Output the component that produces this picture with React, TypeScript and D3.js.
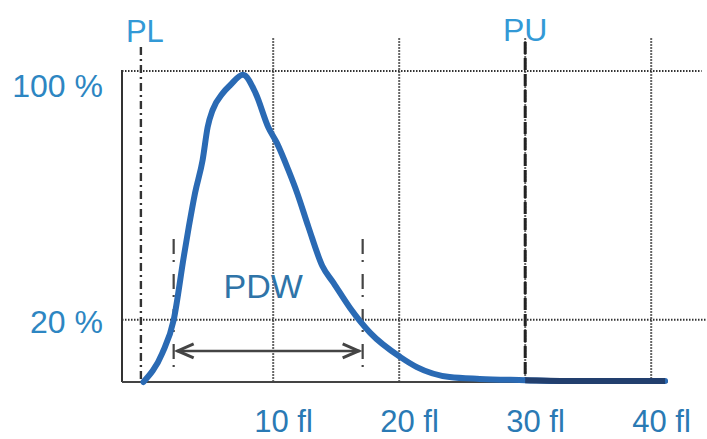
import * as d3 from 'd3'

const width = 707
const height = 439

// distribution curve (volume fl, relative count %)
const curveFl = [-0.3, 1.2, 2.1, 2.9, 3.3, 3.8, 4.4, 4.8, 5.2, 6.0, 6.6, 7.6, 8.6, 9.6, 10.3, 11.2, 11.9, 12.8, 13.9, 14.8, 16.1, 17.7, 20.1, 21.4, 24.0, 26.4, 30.0, 32.8, 41.1]
const curvePct = [0, 9.3, 19.9, 40.2, 49.8, 60.8, 71.4, 82.0, 87.5, 92.9, 95.5, 98.8, 92.9, 82.0, 76.8, 68.2, 60.8, 49.8, 37.3, 31.8, 23.8, 15.8, 8.0, 4.8, 1.6, 1.0, 0.6, 0.3, 0.3]

const xTicks = [10, 20, 30, 40]
const yTicks = [20, 100]

const plFl = -0.5
const puFl = 30
const pdwBounds = [2.1, 17.1]
const arrowPct = 10

const font = '"Liberation Sans", Arial, sans-serif'

export default function App(): JSX.Element {
  const x = d3.scaleLinear().domain([-2, 44]).range([122, 701.6])
  const y = d3.scaleLinear().domain([0, 100]).range([382, 71])

  const pts = curveFl.map((f, i) => [f, curvePct[i]] as [number, number])
  const line = d3
    .line<[number, number]>()
    .x((d) => x(d[0]))
    .y((d) => y(d[1]))
    .curve(d3.curveMonotoneX)
  const tail = pts.filter((d) => d[0] >= puFl)

  const top = y(100)
  const gridTop = y(110.5)
  const ay = y(arrowPct)
  const [pdwL, pdwR] = pdwBounds.map((v) => x(v))

  return (
    <svg
      width={width}
      height={height}
      style={{ position: 'absolute', left: 0, top: 0, background: '#fff' }}
      fontFamily={font}
    >
      {/* dotted grid */}
      {xTicks.map((t) => (
        <line key={`vx-${t}`} x1={x(t)} x2={x(t)} y1={gridTop} y2={y(0)} stroke="#333" strokeWidth={2} strokeDasharray="1.5 1.5" />
      ))}
      {yTicks.map((t) => (
        <line key={`hy-${t}`} x1={x(-2)} x2={t === 100 ? x(44) : width} y1={y(t)} y2={y(t)} stroke="#333" strokeWidth={2} strokeDasharray="1.5 1.5" />
      ))}

      {/* axes */}
      <line x1={x(-2)} x2={x(-2)} y1={top - 1} y2={y(0)} stroke="#333" strokeWidth={2} />
      <line x1={x(-2)} x2={x(41.3)} y1={y(0)} y2={y(0)} stroke="#444" strokeWidth={2} />

      {/* PL / PU */}
      <line x1={x(plFl)} x2={x(plFl)} y1={y(107.7)} y2={y(0)} stroke="#333" strokeWidth={2.4} strokeDasharray="8 4 2 4" />
      <line x1={x(puFl)} x2={x(puFl)} y1={y(109.3)} y2={y(0)} stroke="#222" strokeWidth={3} strokeDasharray="12 4" />
      <text x={x(plFl) + 4} y={42} fontSize={31} fill="#3399d6" textAnchor="middle">PL</text>
      <text x={x(puFl)} y={41} fontSize={32} fill="#3399d6" textAnchor="middle">PU</text>

      {/* PDW markers */}
      {[pdwL, pdwR].map((px, i) => (
        <line key={`pdw-${i}`} x1={px} x2={px} y1={y(46)} y2={y(3)} stroke="#444" strokeWidth={2.2} strokeDasharray="15 6 2 12" />
      ))}
      <line x1={pdwL + 3} x2={pdwR - 3} y1={ay} y2={ay} stroke="#444" strokeWidth={2.5} />
      <path d={`M${pdwL + 20},${ay - 7} L${pdwL + 4},${ay} L${pdwL + 20},${ay + 7}`} fill="none" stroke="#444" strokeWidth={3} />
      <path d={`M${pdwR - 20},${ay - 7} L${pdwR - 4},${ay} L${pdwR - 20},${ay + 7}`} fill="none" stroke="#444" strokeWidth={3} />
      <text x={x(9.2)} y={298} fontSize={34} fill="#2f74a8" textAnchor="middle">PDW</text>

      {/* curve */}
      <path d={line(pts) ?? ''} fill="none" stroke="#2a6ab4" strokeWidth={6} strokeLinejoin="round" strokeLinecap="round" />
      <path d={d3.line<[number, number]>().x((d) => x(d[0])).y((d) => y(d[1]))(tail) ?? ''} fill="none" stroke="#223f6e" strokeWidth={6} />

      {/* labels */}
      {yTicks.map((t) => (
        <text key={`yl-${t}`} x={103} y={y(t) + (t === 100 ? 26 : 13)} fontSize={32} fill="#2d86c2" textAnchor="end">
          {t} %
        </text>
      ))}
      {xTicks.map((t) => (
        <text key={`xl-${t}`} x={x(t) - 19} y={432} fontSize={31} fill="#2a7ab4">
          {t} fl
        </text>
      ))}
    </svg>
  )
}
